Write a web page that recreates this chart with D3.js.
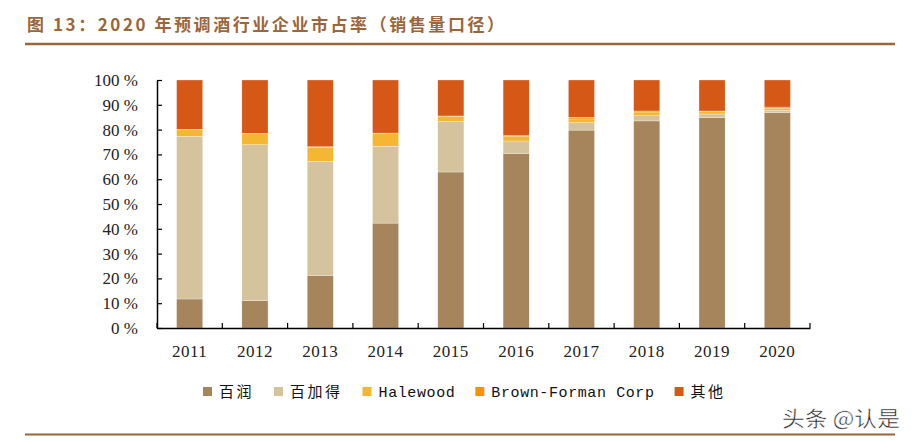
<!DOCTYPE html>
<html>
<head>
<meta charset="utf-8">
<script src="https://cdn.jsdelivr.net/npm/d3@7"></script>
<style>
  body { margin: 0; background: #fff; }
  svg { display: block; }
</style>
</head>
<body>
<div id="container"></div>
<script>
const WIDTH = 915,
  HEIGHT = 442;

// Data (% of sales volume)
const years = ["2011", "2012", "2013", "2014", "2015", "2016", "2017", "2018", "2019", "2020"];
const seriesNames = ["百润", "百加得", "Halewood", "Brown-Forman Corp", "其他"];
const baiRun      = [11.7, 11.0, 21.2, 42.3, 62.9, 70.4, 79.8, 83.5, 84.8, 86.9];
const bacardi     = [65.6, 62.9, 46.0, 31.0, 20.4, 5.0, 3.0, 2.1, 1.5, 0.9];
const halewood    = [2.6, 4.4, 5.7, 5.1, 2.0, 1.8, 1.5, 1.5, 1.0, 0.8];
const brownForman = [0.2, 0.2, 0.2, 0.2, 0.2, 0.4, 0.7, 0.4, 0.2, 0.5];
const others      = [19.9, 21.5, 26.9, 21.4, 14.5, 22.4, 15.0, 12.5, 12.5, 10.9];
const yTicks = [0, 10, 20, 30, 40, 50, 60, 70, 80, 90, 100];

const colors = ["#a6845c", "#d4c39c", "#f5b731", "#f59300", "#d55817"];
const titleText = "图 13：2020 年预调酒行业企业市占率（销售量口径）";
const brown = "#9a663b";

const table = years.map((y, i) => ({
  year: y,
  "百润": baiRun[i],
  "百加得": bacardi[i],
  "Halewood": halewood[i],
  "Brown-Forman Corp": brownForman[i],
  "其他": others[i]
}));

const svg = d3.select("#container")
  .append("svg")
  .attr("width", WIDTH)
  .attr("height", HEIGHT)

// Title + rules
svg.append("text")
  .attr("x", 27)
  .attr("y", 31)
  .attr("textLength", 477)
  .attr("lengthAdjust", "spacing")
  .style("font-family", "'Noto Sans CJK SC', sans-serif")
  .style("font-weight", "bold")
  .style("font-size", "17px")
  .style("fill", brown)
  .text(titleText)

svg.append("line")
  .attr("x1", 25).attr("x2", 895)
  .attr("y1", 44).attr("y2", 44)
  .style("stroke", brown).style("stroke-width", 2.5)

svg.append("line")
  .attr("x1", 25).attr("x2", 895)
  .attr("y1", 434.5).attr("y2", 434.5)
  .style("stroke", brown).style("stroke-width", 2)

// Scales
const xScale = d3.scaleBand()
  .domain(years)
  .range([157, 810])
  .paddingInner(0.6)
  .paddingOuter(0.3)

const yScale = d3.scaleLinear()
  .domain([0, 100])
  .range([328, 80])

const colorScale = d3.scaleOrdinal()
  .domain(seriesNames)
  .range(colors)

const stacked = d3.stack().keys(seriesNames)(table);

// Bars
svg.append("g")
  .selectAll("g")
  .data(stacked)
  .join("g")
  .style("fill", d => colorScale(d.key))
  .selectAll("rect")
  .data(d => d)
  .join("rect")
  .attr("x", d => xScale(d.data.year))
  .attr("width", xScale.bandwidth())
  .attr("y", d => yScale(d[1]))
  .attr("height", d => yScale(d[0]) - yScale(d[1]))
  .style("stroke", "#fff")
  .style("stroke-width", 0.4)
  .style("stroke-opacity", 0.7)

// Y axis
const yAxis = svg.append("g")
  .attr("class", "y-axis")
  .attr("transform", "translate(157,0)")
  .call(d3.axisLeft(yScale)
    .tickValues(yTicks)
    .tickFormat(d => d + " %")
    .tickSizeInner(-5)
    .tickSizeOuter(0)
    .tickPadding(19))

yAxis.select(".domain").style("stroke", "#000").style("stroke-width", 1.5)
yAxis.selectAll(".tick line").style("stroke", "#000").style("stroke-width", 1.2)
yAxis.selectAll("text")
  .style("font-family", "'Liberation Serif', serif")
  .style("font-size", "17px")
  .style("fill", "#222")

// X axis
const xAxis = svg.append("g")
  .attr("class", "x-axis")
  .attr("transform", "translate(0,328)")
  .call(d3.axisBottom(xScale).tickSize(0).tickPadding(17))

xAxis.select(".domain").style("stroke", "#000").style("stroke-width", 1.5)
xAxis.selectAll("text")
  .style("font-family", "'Liberation Serif', serif")
  .style("font-size", "17px")
  .style("letter-spacing", "0.5px")
  .style("fill", "#222")

// category boundary ticks
const half = xScale.step() * xScale.paddingInner() / 2;
const bounds = years.map(y => xScale(y) - half).concat([xScale(years[years.length - 1]) + xScale.bandwidth() + half]);
xAxis.selectAll(".bound")
  .data(bounds)
  .join("line")
  .attr("class", "bound")
  .attr("x1", d => d).attr("x2", d => d)
  .attr("y1", 0).attr("y2", -5)
  .style("stroke", "#000").style("stroke-width", 1.2)

// Legend
const isCJK = s => /[\u4e00-\u9fff]/.test(s);
const legend = svg.append("g").attr("transform", "translate(203,0)")
let lx = 0;
seriesNames.forEach(name => {
  legend.append("rect")
    .attr("x", lx).attr("y", 387)
    .attr("width", 9).attr("height", 9)
    .style("fill", colorScale(name))
  const t = legend.append("text")
    .attr("x", lx + 16)
    .attr("y", 397)
    .style("font-family", isCJK(name) ? "'Noto Sans CJK SC', sans-serif" : "'Liberation Mono', monospace")
    .style("font-size", "15px")
    .style("letter-spacing", isCJK(name) ? "2.5px" : "0.6px")
    .style("fill", "#111")
    .text(name)
  lx += 16 + t.node().getComputedTextLength() + 20;
});

// Watermark
svg.append("text")
  .attr("x", 782)
  .attr("y", 426)
  .attr("textLength", 118)
  .attr("lengthAdjust", "spacingAndGlyphs")
  .style("font-family", "'Noto Sans CJK SC', sans-serif")
  .style("font-size", "21px")
  .style("fill", "#222")
  .style("stroke", "#fff")
  .style("stroke-width", 0.5)
  .text("头条 @认是")
</script>
</body>
</html>
